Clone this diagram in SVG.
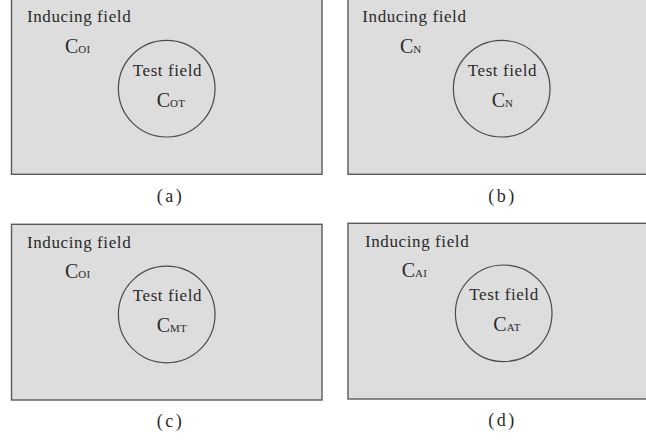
<svg xmlns="http://www.w3.org/2000/svg" width="646" height="442" viewBox="0 0 646 442">
<style>
.panel{fill:#dddddd;stroke:#5a5a5a;stroke-width:1.4}
.circ{fill:none;stroke:#4a4a4a;stroke-width:1.2}
text{font-family:"Liberation Serif","Times New Roman",serif;fill:#2a2a2a}
.lbl{font-size:17px;letter-spacing:0.6px}
.c{font-size:20px}
.s{font-size:11px;letter-spacing:0.3px}
.cap{font-size:18px;letter-spacing:2.5px}
</style>
<rect width="646" height="442" fill="#ffffff"/>
<g id="panel-a">
<rect class="panel" x="11.5" y="-5" width="310.5" height="179.3"/>
<text class="lbl" x="27" y="22">Inducing field</text>
<text class="c" x="65" y="52.7">C<tspan class="s">OI</tspan></text>
<circle class="circ" cx="166.7" cy="88.7" r="48.3"/>
<text class="lbl" x="132.7" y="76">Test field</text>
<text class="c" x="156.7" y="106.7">C<tspan class="s">OT</tspan></text>
<text class="cap" x="170.5" y="201.7" text-anchor="middle">(a)</text>
</g>
<g id="panel-b">
<rect class="panel" x="348" y="-5" width="310" height="179.3"/>
<text class="lbl" x="362.3" y="22">Inducing field</text>
<text class="c" x="400" y="52.7">C<tspan class="s">N</tspan></text>
<circle class="circ" cx="501.7" cy="88.7" r="48.3"/>
<text class="lbl" x="467.7" y="76">Test field</text>
<text class="c" x="491.7" y="106.7">C<tspan class="s">N</tspan></text>
<text class="cap" x="502.6" y="201.7" text-anchor="middle">(b)</text>
</g>
<g id="panel-c">
<rect class="panel" x="11.5" y="224.3" width="310.5" height="175.7"/>
<text class="lbl" x="27" y="248.3">Inducing field</text>
<text class="c" x="65" y="278.3">C<tspan class="s">OI</tspan></text>
<circle class="circ" cx="166.7" cy="314.5" r="48.3"/>
<text class="lbl" x="132.7" y="301">Test field</text>
<text class="c" x="156.7" y="332.3">C<tspan class="s">MT</tspan></text>
<text class="cap" x="170.5" y="426.7" text-anchor="middle">(c)</text>
</g>
<g id="panel-d">
<rect class="panel" x="348" y="223.3" width="310" height="175.7"/>
<text class="lbl" x="365" y="247.3">Inducing field</text>
<text class="c" x="401.7" y="277">C<tspan class="s">AI</tspan></text>
<circle class="circ" cx="503.7" cy="313.3" r="48.3"/>
<text class="lbl" x="469.3" y="300">Test field</text>
<text class="c" x="493.3" y="331">C<tspan class="s">AT</tspan></text>
<text class="cap" x="502.6" y="425.7" text-anchor="middle">(d)</text>
</g>
<g id="connectors"></g>
</svg>
